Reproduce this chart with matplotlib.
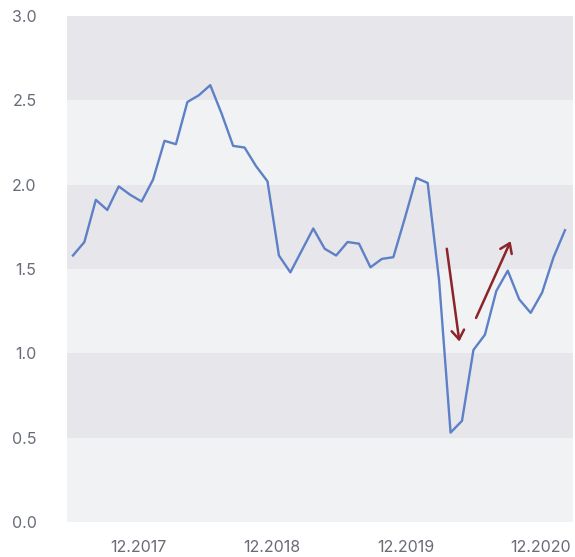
import matplotlib.pyplot as plt
import numpy as np

values = [1.58, 1.66, 1.91, 1.85, 1.99, 1.94, 1.90, 2.03, 2.26, 2.24,
          2.49, 2.53, 2.59, 2.42, 2.23, 2.22, 2.11, 2.02, 1.58, 1.48,
          1.61, 1.74, 1.62, 1.58, 1.66, 1.65, 1.51, 1.56, 1.57, 1.80,
          2.04, 2.01, 1.43, 0.53, 0.60, 1.02, 1.11, 1.37, 1.49, 1.32,
          1.24, 1.36, 1.57, 1.73]
tick_pos = [5.7, 17.4, 29.1, 40.9]
tick_labels = ["12.2017", "12.2018", "12.2019", "12.2020"]
y_ticks = [0.0, 0.5, 1.0, 1.5, 2.0, 2.5, 3.0]

# arrows (start, end) in data units
arrow_down = [(32.67, 1.62), (33.77, 1.07)]
arrow_up = [(35.23, 1.21), (38.25, 1.665)]

plt.rcParams['font.family'] = ['Inter', 'DejaVu Sans']

fig = plt.figure(figsize=(5.75, 5.57), dpi=100)
ax = fig.add_axes([67/575, 35/557, 506/575, 506/557])

dark = "#e7e6eb"
light = "#f1f2f4"
for i in range(6):
    ax.axhspan(i*0.5, (i+1)*0.5, color=dark if i % 2 else light, lw=0, zorder=0)

x = np.arange(len(values))
ax.plot(x, values, color="#5d80c6", lw=1.7, zorder=3)

for a in (arrow_down, arrow_up):
    ax.annotate("", xy=a[1], xytext=a[0],
                arrowprops=dict(arrowstyle="->,head_length=0.65,head_width=0.45",
                                color="#8b2528", lw=1.8, shrinkA=0, shrinkB=0),
                zorder=4)

ax.set_xlim(-0.52, 43.7)
ax.set_ylim(0, 3.0)
ax.set_yticks(y_ticks)
ax.set_yticklabels([f"{v:.1f}" for v in y_ticks])
ax.set_xticks(tick_pos)
ax.set_xticklabels(tick_labels)
ax.tick_params(axis='y', length=0, pad=22, labelsize=11.5, labelcolor="#686b78")
ax.tick_params(axis='x', length=0, pad=13, labelsize=11.5, labelcolor="#686b78")
for s in ax.spines.values():
    s.set_visible(False)

fig.savefig("out.png", dpi=100, facecolor="white")
